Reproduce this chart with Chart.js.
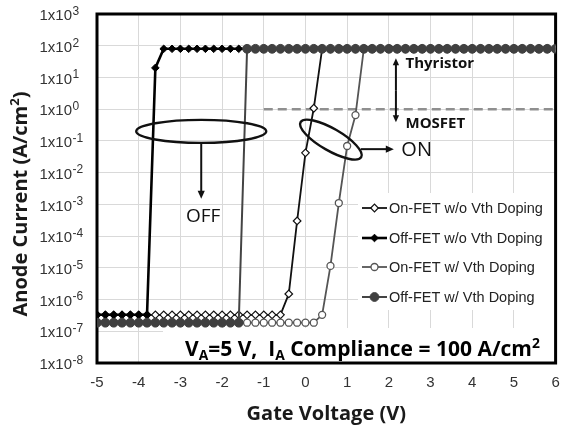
<!DOCTYPE html>
<html>
<head>
<meta charset="utf-8">
<script src="https://cdn.jsdelivr.net/npm/chart.js@4.4.1/dist/chart.umd.min.js"></script>
<style>
  html, body { margin: 0; padding: 0; background: #fff; }
</style>
</head>
<body>
<canvas id="graph" width="561" height="428"></canvas>
<script>
// gate sweep, 0.2 V steps
const gateVoltage = [
  -5.0, -4.8, -4.6, -4.4, -4.2, -4.0, -3.8, -3.6, -3.4, -3.2,
  -3.0, -2.8, -2.6, -2.4, -2.2, -2.0, -1.8, -1.6, -1.4, -1.2,
  -1.0, -0.8, -0.6, -0.4, -0.2, 0.0, 0.2, 0.4, 0.6, 0.8,
  1.0, 1.2, 1.4, 1.6, 1.8, 2.0, 2.2, 2.4, 2.6, 2.8,
  3.0, 3.2, 3.4, 3.6, 3.8, 4.0, 4.2, 4.4, 4.6, 4.8,
  5.0, 5.2, 5.4, 5.6, 5.8, 6.0
];

// anode current density, A/cm2
const onFetNoDoping = [
  3.3e-7, 3.3e-7, 3.3e-7, 3.3e-7, 3.3e-7, 3.3e-7, 3.3e-7, 3.3e-7, 3.3e-7, 3.3e-7,
  3.3e-7, 3.3e-7, 3.3e-7, 3.3e-7, 3.3e-7, 3.3e-7, 3.3e-7, 3.3e-7, 3.3e-7, 3.3e-7,
  3.3e-7, 3.3e-7, 3.3e-7, 1.5e-6, 3.0e-4, 4.2e-2, 1.07, 80, 80, 80,
  80, 80, 80, 80, 80, 80, 80, 80, 80, 80,
  80, 80, 80, 80, 80, 80, 80, 80, 80, 80,
  80, 80, 80, 80, 80, 80
];
const offFetNoDoping = [
  3.3e-7, 3.3e-7, 3.3e-7, 3.3e-7, 3.3e-7, 3.3e-7, 3.3e-7, 20, 80, 80,
  80, 80, 80, 80, 80, 80, 80, 80, 80, 80,
  80, 80, 80, 80, 80, 80, 80, 80, 80, 80,
  80, 80, 80, 80, 80, 80, 80, 80, 80, 80,
  80, 80, 80, 80, 80, 80, 80, 80, 80, 80,
  80, 80, 80, 80, 80, 80
];
const onFetDoping = [
  1.86e-7, 1.86e-7, 1.86e-7, 1.86e-7, 1.86e-7, 1.86e-7, 1.86e-7, 1.86e-7, 1.86e-7, 1.86e-7,
  1.86e-7, 1.86e-7, 1.86e-7, 1.86e-7, 1.86e-7, 1.86e-7, 1.86e-7, 1.86e-7, 1.86e-7, 1.86e-7,
  1.86e-7, 1.86e-7, 1.86e-7, 1.86e-7, 1.86e-7, 1.86e-7, 1.86e-7, 3.3e-7, 1.15e-5, 1.1e-3,
  6.9e-2, 0.65, 80, 80, 80, 80, 80, 80, 80, 80,
  80, 80, 80, 80, 80, 80, 80, 80, 80, 80,
  80, 80, 80, 80, 80, 80
];
const offFetDoping = [
  1.86e-7, 1.86e-7, 1.86e-7, 1.86e-7, 1.86e-7, 1.86e-7, 1.86e-7, 1.86e-7, 1.86e-7, 1.86e-7,
  1.86e-7, 1.86e-7, 1.86e-7, 1.86e-7, 1.86e-7, 1.86e-7, 1.86e-7, 1.86e-7, 80, 80,
  80, 80, 80, 80, 80, 80, 80, 80, 80, 80,
  80, 80, 80, 80, 80, 80, 80, 80, 80, 80,
  80, 80, 80, 80, 80, 80, 80, 80, 80, 80,
  80, 80, 80, 80, 80, 80
];

// MOSFET current limit (dashed)
const mosfetLimitV = [-1, 6];
const mosfetLimitA = [1, 1];

const yExponents = [3, 2, 1, 0, -1, -2, -3, -4, -5, -6, -7, -8];
const seriesNames = [
  "On-FET w/o Vth Doping",
  "Off-FET w/o Vth Doping",
  "On-FET w/ Vth Doping",
  "Off-FET w/ Vth Doping"
];

const TICK_FONT = '"Liberation Sans", Arial, sans-serif';
const TITLE_FONT = '"Open Sans", "Noto Sans", sans-serif';

const toPoints = (xs, ys) => xs.map((v, i) => ({ x: v, y: ys[i] }));

const seriesStyles = [
  { borderColor: "#111", borderWidth: 1.8, pointStyle: "rectRot", pointRadius: 3.8,
    pointBackgroundColor: "#fff", pointBorderColor: "#111", pointBorderWidth: 1.2, order: 4 },
  { borderColor: "#000", borderWidth: 2.6, pointStyle: "rectRot", pointRadius: 3.8,
    pointBackgroundColor: "#000", pointBorderColor: "#000", pointBorderWidth: 1, order: 3 },
  { borderColor: "#555", borderWidth: 1.8, pointStyle: "circle", pointRadius: 3.5,
    pointBackgroundColor: "#fff", pointBorderColor: "#555", pointBorderWidth: 1.3, order: 2 },
  { borderColor: "#444", borderWidth: 2, pointStyle: "circle", pointRadius: 4.4,
    pointBackgroundColor: "#404040", pointBorderColor: "#404040", pointBorderWidth: 1, order: 1 }
];
const seriesData = [onFetNoDoping, offFetNoDoping, onFetDoping, offFetDoping];

const datasets = seriesData.map((arr, i) => Object.assign({
  label: seriesNames[i],
  data: toPoints(gateVoltage, arr),
  tension: 0,
  fill: false
}, seriesStyles[i]));

datasets.push({
  label: "MOSFET limit",
  data: toPoints(mosfetLimitV, mosfetLimitA),
  borderColor: "#8f8f8f",
  borderWidth: 2.5,
  borderDash: [9, 5],
  pointRadius: 0,
  order: 5
});

function arrow(ctx, x1, y1, x2, y2, head) {
  const ang = Math.atan2(y2 - y1, x2 - x1);
  ctx.beginPath();
  ctx.moveTo(x1, y1);
  ctx.lineTo(x2 - Math.cos(ang) * head * 0.8, y2 - Math.sin(ang) * head * 0.8);
  ctx.stroke();
  ctx.beginPath();
  ctx.moveTo(x2, y2);
  ctx.lineTo(x2 - head * Math.cos(ang) + head * 0.45 * Math.sin(ang),
             y2 - head * Math.sin(ang) - head * 0.45 * Math.cos(ang));
  ctx.lineTo(x2 - head * Math.cos(ang) - head * 0.45 * Math.sin(ang),
             y2 - head * Math.sin(ang) + head * 0.45 * Math.cos(ang));
  ctx.closePath();
  ctx.fill();
}

// draws a run of text pieces, some raised or lowered, starting at x
function richText(ctx, parts, x, y, size, weight) {
  let cx = x;
  parts.forEach(p => {
    const s = p.sup || p.sub ? size * 0.66 : size;
    ctx.font = `${weight} ${s}px ${TITLE_FONT}`;
    const dy = p.sup ? -size * 0.38 : p.sub ? size * 0.2 : 0;
    ctx.fillText(p.t, cx, y + dy);
    cx += ctx.measureText(p.t).width;
  });
  return cx - x;
}
function richWidth(ctx, parts, size, weight) {
  let w = 0;
  parts.forEach(p => {
    const s = p.sup || p.sub ? size * 0.66 : size;
    ctx.font = `${weight} ${s}px ${TITLE_FONT}`;
    w += ctx.measureText(p.t).width;
  });
  return w;
}

const decorations = {
  id: "decorations",
  beforeDatasetsDraw(chart) {
    const { ctx, chartArea: a } = chart;
    ctx.save();
    // white panels behind legend and caption
    ctx.fillStyle = "#fff";
    ctx.fillRect(358, 193, a.right - 358, 117);
    ctx.fillRect(163, 328, a.right - 163, a.bottom - 328);
    // plot frame
    ctx.strokeStyle = "#000";
    ctx.lineWidth = 3;
    ctx.strokeRect(a.left, a.top, a.right - a.left, a.bottom - a.top);
    ctx.restore();
  },
  afterDatasetsDraw(chart) {
    const { ctx, chartArea: a, scales } = chart;
    const xs = scales.x, ys = scales.y;
    const px = v => xs.getPixelForValue(v);
    const py = v => ys.getPixelForValue(v);
    ctx.save();

    // y tick labels 1x10^n
    ctx.fillStyle = "#333";
    ys.ticks.forEach((t, i) => {
      const y = py(t.value);
      ctx.font = `15px ${TICK_FONT}`;
      ctx.textAlign = "right";
      ctx.textBaseline = "middle";
      ctx.fillText("1x10", 72, y + 2);
      ctx.font = `12px ${TICK_FONT}`;
      ctx.textAlign = "left";
      ctx.fillText(String(yExponents[i]), 72.5, y - 2.5);
    });

    // axis titles
    ctx.fillStyle = "#1a1a1a";
    ctx.textBaseline = "alphabetic";
    ctx.textAlign = "left";
    ctx.font = `bold 20px ${TITLE_FONT}`;
    const xt = "Gate Voltage (V)";
    ctx.fillText(xt, (a.left + a.right) / 2 - ctx.measureText(xt).width / 2, 420);

    const yParts = [{ t: "Anode Current (A/cm" }, { t: "2", sup: true }, { t: ")" }];
    ctx.save();
    ctx.translate(27, 204);
    ctx.rotate(-Math.PI / 2);
    const yw = richWidth(ctx, yParts, 20, "bold");
    richText(ctx, yParts, -yw / 2, 0, 20, "bold");
    ctx.restore();

    // OFF marker
    ctx.strokeStyle = "#111";
    ctx.fillStyle = "#111";
    ctx.lineWidth = 2.4;
    const offX = px(-2.5), offY = py(0.2);
    ctx.beginPath();
    ctx.ellipse(offX, offY, 65, 11.5, 0, 0, Math.PI * 2);
    ctx.stroke();
    ctx.lineWidth = 2;
    arrow(ctx, offX, offY + 11.5, offX, py(1.5e-3), 8);
    ctx.font = `19px ${TITLE_FONT}`;
    ctx.textAlign = "center";
    ctx.textBaseline = "middle";
    ctx.fillText("OFF", offX + 2, py(4e-4));

    // ON marker
    const onX = px(0.61), onY = py(0.11);
    ctx.lineWidth = 2.4;
    ctx.beginPath();
    ctx.ellipse(onX, onY, 35, 11, Math.PI / 6, 0, Math.PI * 2);
    ctx.stroke();
    ctx.lineWidth = 2;
    arrow(ctx, onX + 30, py(0.055), px(2.12), py(0.055), 8);
    ctx.font = `20px ${TITLE_FONT}`;
    ctx.textAlign = "left";
    ctx.fillText("ON", px(2.3), py(0.055) + 1);

    // thyristor / MOSFET span
    const bx = px(2.17);
    ctx.lineWidth = 2;
    arrow(ctx, bx, (py(40) + py(0.39)) / 2, bx, py(40), 7);
    arrow(ctx, bx, (py(40) + py(0.39)) / 2, bx, py(0.39), 7);
    ctx.font = `bold 15px ${TITLE_FONT}`;
    ctx.fillText("Thyristor", px(2.4), py(28));
    ctx.fillText("MOSFET", px(2.4), py(0.36));

    // caption
    ctx.fillStyle = "#000";
    ctx.textBaseline = "alphabetic";
    richText(ctx, [
      { t: "V" }, { t: "A", sub: true }, { t: "=5 V,  I" }, { t: "A", sub: true },
      { t: " Compliance = 100 A/cm" }, { t: "2", sup: true }
    ], 185, 356, 21, "bold");

    // legend
    const rows = [208, 238, 267, 297];
    chart.data.datasets.slice(0, 4).forEach((ds, i) => {
      const y = rows[i];
      ctx.strokeStyle = ds.borderColor;
      ctx.lineWidth = ds.borderWidth;
      ctx.beginPath();
      ctx.moveTo(362, y);
      ctx.lineTo(387, y);
      ctx.stroke();
      ctx.fillStyle = ds.pointBackgroundColor;
      ctx.strokeStyle = ds.pointBorderColor;
      ctx.lineWidth = ds.pointBorderWidth;
      Chart.helpers.drawPoint(ctx, {
        pointStyle: ds.pointStyle, radius: ds.pointRadius, borderWidth: ds.pointBorderWidth, rotation: 0
      }, 374.5, y);
      ctx.fillStyle = "#222";
      ctx.font = `14.5px ${TICK_FONT}`;
      ctx.textAlign = "left";
      ctx.textBaseline = "middle";
      ctx.fillText(ds.label, 389, y + 1);
    });

    ctx.restore();
  }
};

new Chart(document.getElementById("graph").getContext("2d"), {
  type: "line",
  data: { datasets },
  options: {
    responsive: false,
    animation: false,
    layout: { padding: { top: 14, right: 5, left: 0, bottom: 0 } },
    plugins: { legend: { display: false }, tooltip: { enabled: false } },
    scales: {
      x: {
        type: "linear",
        min: -5,
        max: 6,
        ticks: { stepSize: 1, color: "#333", font: { family: TICK_FONT, size: 15 }, padding: 11, maxRotation: 0 },
        grid: { color: "#d9d9d9", drawTicks: false },
        border: { display: false },
        afterFit: s => { s.height = 65; s.paddingLeft = 0; s.paddingRight = 0; }
      },
      y: {
        type: "logarithmic",
        min: 1e-8,
        max: 1e3,
        afterBuildTicks: s => { s.ticks = yExponents.map(e => ({ value: Math.pow(10, e) })); },
        ticks: { display: false },
        grid: { color: "#d9d9d9", drawTicks: false },
        border: { display: false },
        afterFit: s => { s.width = 97; s.paddingTop = 0; s.paddingBottom = 0; }
      }
    }
  },
  plugins: [decorations]
});
</script>
</body>
</html>
